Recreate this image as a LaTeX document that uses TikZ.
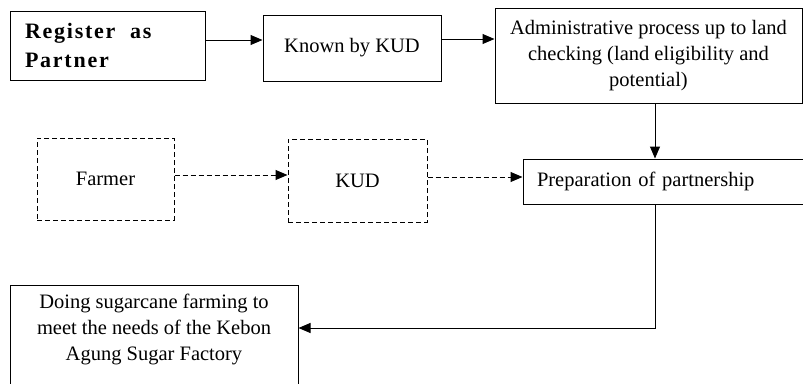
\documentclass[tikz,border=0pt]{standalone}
\usepackage{fontspec}
\setmainfont{Liberation Serif}
\usetikzlibrary{arrows.meta,calc}
\tikzset{%
  >={Triangle[length=12pt,width=10pt]}, % filled heads
  box/.style={draw,line width=1pt,inner sep=0pt,font=\fontsize{20.5}{26}\selectfont},
  dbox/.style={box,dash pattern=on 5pt off 3pt},
  link/.style={->,line width=1pt},
  dlink/.style={link,dash pattern=on 5pt off 3pt}
}
\begin{document}
\begin{tikzpicture}[x=1pt,y=-1pt]
\useasboundingbox (0,0) rectangle (803,383);
\clip (0,0) rectangle (803,383);

%boxes
\node[box,minimum width=195,minimum height=69,text width=165,align=left,
  font=\fontsize{22}{29}\selectfont\bfseries\addfontfeature{LetterSpace=8}]
  (reg) at (107.5,45.5) {Register~~as\\Partner};
\node[box,minimum width=178,minimum height=66] (known) at (352,48) {Known by KUD};
\node[box,minimum width=307,minimum height=95,align=center] (admin) at (648.5,55.5)
  {Administrative process up to land\\checking (land eligibility and\\potential)};
\node[dbox,minimum width=137,minimum height=82] (farmer) at (105.5,179) {Farmer};
\node[dbox,minimum width=139,minimum height=83] (kud) at (357.5,180.5) {KUD};
\node[box,minimum height=45,inner xsep=14pt,text width=254,align=left] (prep)
  at (664,181.5) {Preparation of partnership};
\node[box,minimum width=288,anchor=north,inner ysep=9pt,align=center] (doing) at (154,285)
  {Doing sugarcane farming to\\meet the needs of the Kebon\\Agung Sugar Factory\\\mbox{}\\\mbox{}};

%connectors
\coordinate (turn) at (655,328);
\draw[link] ([yshift=5.5pt]reg.east) -- ([yshift=8pt]known.west);
\draw[link] ([yshift=9pt]known.east) -- ([yshift=16.5pt]admin.west);
\draw[link] ([xshift=6.5pt]admin.south) -- ([xshift=6.5pt]admin.south |- prep.north);
\draw[dlink] ([yshift=4pt]farmer.east) -- ([yshift=5.5pt]kud.west);
\draw[dlink] ([yshift=3.5pt]kud.east) -- ([yshift=4.5pt]prep.west);
\draw[link] (prep.south -| turn) -- (turn) -- (doing.east |- turn);

\end{tikzpicture}
\end{document}
